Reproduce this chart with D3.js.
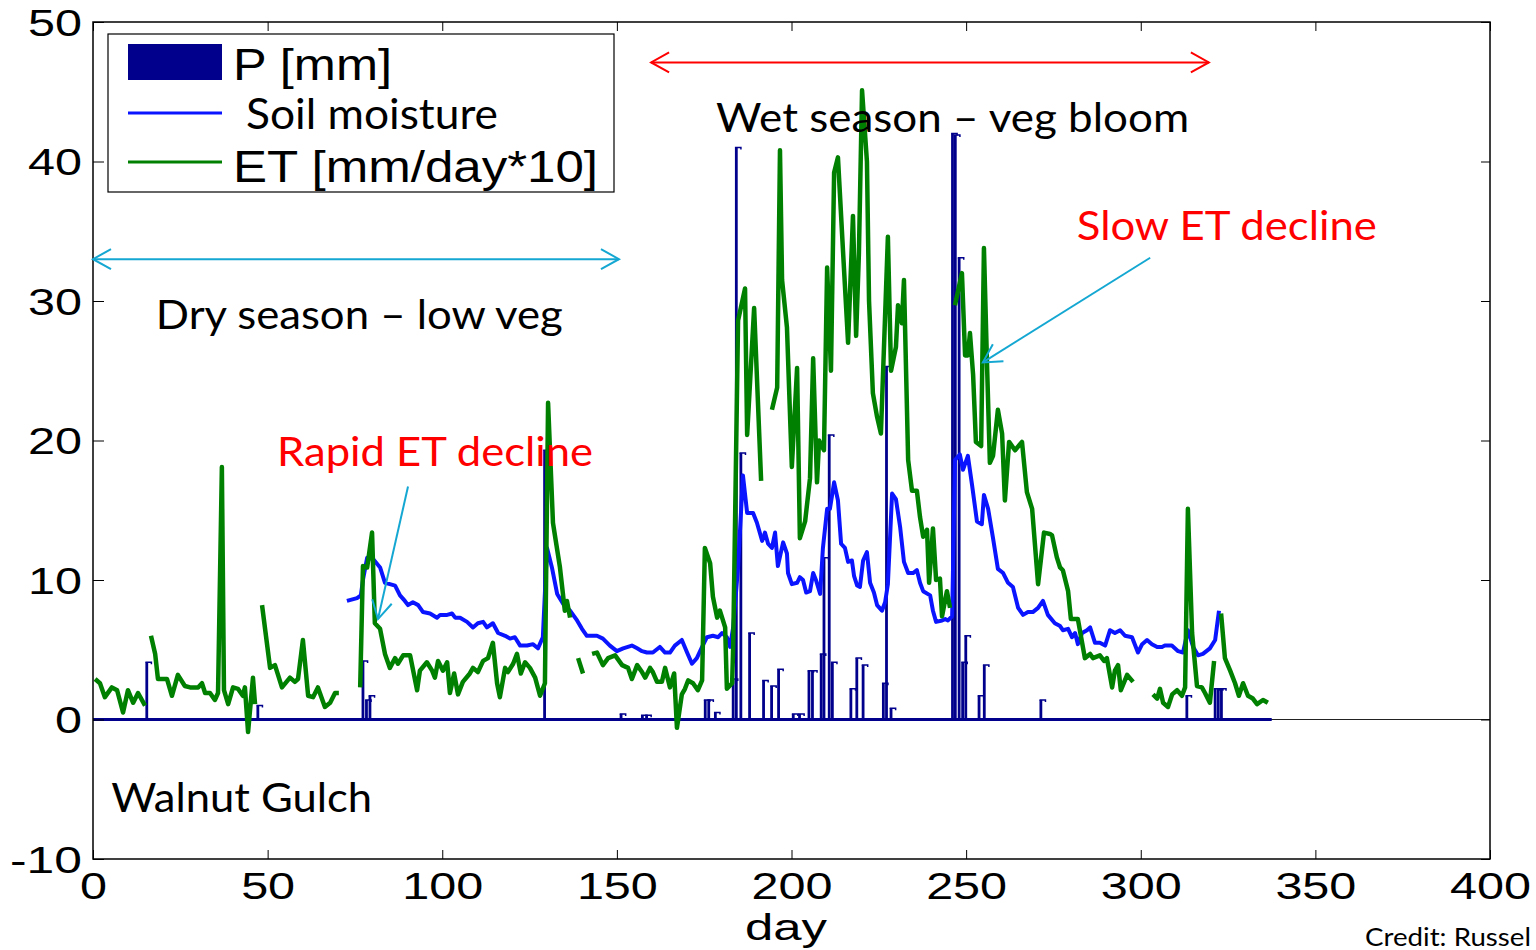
<!DOCTYPE html>
<html lang="en">
<head>
<meta charset="UTF-8">
<title>Walnut Gulch</title>
<script src="https://cdn.jsdelivr.net/npm/d3@7"></script>
<style>
  body { margin: 0; background: white; }
  svg { display: block; }
  .tick-label { font-family: "Liberation Sans", Arial, sans-serif; font-size: 37px; fill: black; }
  .note { font-family: Lato, "Open Sans", sans-serif; font-size: 40px; }
  .legend-arial { font-family: "Liberation Sans", Arial, sans-serif; font-size: 44px; }
</style>
</head>
<body>
<div id="chart"></div>
<script>
// ---- data ----
const dayTicks = [0, 50, 100, 150, 200, 250, 300, 350, 400];
const valueTicks = [-10, 0, 10, 20, 30, 40, 50];

// precipitation bars: day and mm
const rainDay = [15.4, 47.2, 77.3, 78.3, 79.3, 129.3, 151.2, 157.3, 158.5, 175.3, 176.3, 178.2, 183.3, 184.2, 185.5,
  188.0, 192.0, 194.3, 196.3, 200.5, 202.3, 205.0, 206.0, 208.5, 209.3, 210.8, 211.7, 217.0, 218.7, 220.5,
  226.3, 227.2, 228.5, 246.1, 246.9, 248.0, 249.0, 249.9, 253.7, 255.2, 271.4, 313.2, 321.3, 322.2, 323.1];
const rainMm = [4.1, 1.0, 4.2, 1.4, 1.7, 19.3, 0.4, 0.3, 0.3, 1.4, 1.4, 0.5, 2.9, 41.0, 19.1,
  6.2, 2.8, 2.4, 3.6, 0.4, 0.4, 3.5, 3.5, 4.7, 11.6, 20.4, 4.1, 2.2, 4.4, 3.9,
  2.6, 25.3, 0.8, 42.0, 41.9, 33.1, 4.1, 6.0, 1.7, 3.9, 1.4, 1.7, 2.2, 2.2, 2.2];
const lastRecordDay = 337.5;

// soil moisture [day, value]
const soilMoisture = [
  [72.7,8.5],[75.6,8.7],[76.7,8.9],[77.3,10.0],[78.5,11.6],[80.2,11.5],[82.2,10.9],[83.6,9.8],[85.0,9.7],[86.5,9.6],
  [87.9,8.9],[89.3,8.5],[90.2,8.2],[91.6,8.4],[93.1,8.2],[94.5,7.7],[96.5,7.6],[98.5,7.3],[99.4,7.5],[101.4,7.5],
  [102.8,7.6],[103.7,7.3],[105.1,7.3],[107.1,7.0],[108.8,6.6],[110.2,6.9],[111.7,7.0],[112.8,6.6],[114.5,6.9],[116.0,6.2],
  [118.0,6.0],[119.4,5.8],[120.8,5.9],[122.3,5.3],[124.3,5.3],[126.0,5.4],[127.4,5.1],[128.8,5.9],[130.0,12.3],[131.4,10.9],
  [132.9,9.0],[134.6,8.3],[136.6,7.8],[138.6,7.1],[140.0,6.5],[141.4,6.0],[144.3,6.0],[146.0,5.8],[148.0,5.3],[150.0,4.9],
  [151.8,5.1],[154.3,5.3],[155.8,5.1],[157.2,4.9],[158.6,4.8],[160.3,4.8],[162.3,5.2],[163.8,4.8],[165.2,4.8],[166.6,5.3],
  [168.6,5.7],[170.1,4.8],[171.5,4.0],[172.9,4.4],[174.4,5.2],[175.8,5.9],[177.5,6.0],[179.0,5.9],[180.1,6.2],[181.5,5.9],
  [182.4,5.2],[183.3,6.6],[184.7,10.9],[186.1,17.5],[187.3,14.8],[189.0,14.8],[190.1,14.1],[191.6,12.8],[192.4,13.4],[193.3,12.6],
  [194.4,12.3],[195.3,13.4],[196.1,11.0],[197.6,12.7],[198.7,11.9],[199.0,10.5],[200.1,9.7],[201.6,9.8],[202.4,10.2],[203.3,10.0],
  [204.2,9.1],[205.3,9.2],[206.2,10.5],[207.0,10.0],[208.2,9.0],[209.0,12.3],[210.2,15.1],[211.0,15.1],[212.2,17.0],[213.3,15.7],
  [214.2,12.6],[215.3,12.3],[216.2,11.3],[217.3,11.4],[217.9,10.3],[218.8,9.6],[219.6,9.5],[220.5,11.4],[221.6,12.0],[222.5,9.8],
  [223.6,9.1],[224.5,8.2],[225.9,7.8],[226.8,8.4],[227.6,9.7],[228.8,16.2],[229.9,15.8],[231.1,13.8],[232.2,11.3],[233.4,10.5],
  [234.8,10.5],[235.9,10.7],[236.8,9.8],[237.7,9.2],[239.7,8.9],[240.5,7.8],[241.4,7.0],[243.1,7.1],[244.0,7.2],[244.8,7.1],
  [246.0,7.4],[246.8,18.6],[248.2,19.0],[249.1,17.9],[250.5,18.9],[251.7,16.8],[253.1,14.2],[254.5,14.0],[255.1,16.1],[256.3,15.1],
  [257.7,13.0],[259.1,10.8],[260.6,10.5],[262.0,9.8],[263.4,9.5],[264.9,8.0],[266.3,7.5],[267.7,7.7],[269.1,7.7],[270.6,8.0],
  [272.0,8.5],[273.4,7.5],[275.4,6.9],[276.9,6.7],[277.7,6.4],[279.2,6.5],[280.3,5.9],[281.2,6.2],[282.0,5.4],[283.2,6.2],
  [284.6,6.4],[285.5,6.6],[286.9,5.5],[288.3,5.5],[289.8,5.3],[291.2,6.4],[292.6,6.2],[294.1,6.4],[295.5,6.0],[297.5,5.9],
  [299.2,4.8],[300.4,5.4],[301.8,5.7],[303.2,5.4],[304.7,5.2],[306.1,5.2],[306.9,5.3],[308.9,5.3],[310.7,4.9],[312.1,4.8],
  [313.5,6.4],[315.0,5.2],[316.4,4.6],[317.8,4.7],[319.8,5.1],[321.3,5.7],[322.4,7.8]
];

// ET x10 [day, value], null = no data
const etScaled = [
  [0.6,2.9],[2.0,2.6],[3.4,1.6],[5.4,2.3],[6.9,2.1],[8.6,0.5],[10.0,2.1],[11.5,1.2],[12.9,1.9],[14.9,1.0],
  [15.8,null],
  [16.6,6.0],[17.8,4.7],[18.6,2.9],[21.2,2.9],[22.6,1.7],[24.3,3.2],[26.3,2.4],[27.8,2.3],[30.1,2.3],[31.2,2.6],
  [32.1,1.9],[33.5,1.9],[34.9,1.4],[35.8,1.9],[36.9,18.1],[37.5,2.1],[38.7,1.1],[40.1,2.3],[41.5,2.2],[42.9,1.7],
  [43.5,2.3],[44.4,-0.9],[45.8,3.0],[46.4,1.1],
  [47.4,null],
  [48.4,8.2],[50.7,3.7],[52.1,3.9],[54.1,2.3],[56.4,3.0],[57.8,2.7],[58.7,2.9],[60.1,5.7],[61.6,1.7],[63.0,1.6],
  [64.4,2.3],[66.4,0.9],[67.9,1.2],[69.3,1.9],[70.4,1.9],
  [73.0,null],
  [76.5,2.3],[77.3,11.0],[78.5,10.9],[79.9,13.4],[80.7,6.9],[82.2,6.5],[83.6,4.7],[85.0,3.7],[86.5,4.4],[87.3,4.0],
  [88.8,4.6],[90.8,4.6],[92.8,2.1],[93.6,3.5],[95.6,4.1],[97.1,3.5],[97.9,3.0],[98.8,4.2],[100.2,3.5],[101.4,4.1],
  [102.2,1.9],[103.4,3.3],[104.5,1.8],[105.9,2.7],[107.9,3.3],[108.8,3.7],[110.2,3.4],[111.7,4.2],[113.1,4.4],[114.5,5.5],
  [115.7,2.6],[116.5,1.6],[118.0,3.7],[118.8,3.4],[120.3,4.0],[121.4,4.7],[122.5,3.3],[123.7,4.1],[125.1,3.7],[126.6,3.0],
  [128.0,1.7],[129.4,2.6],[130.3,22.7],[131.7,14.1],[133.7,10.9],[135.1,7.8],[135.7,8.5],[136.6,7.3],
  [137.8,null],
  [138.9,4.4],[140.3,3.3],
  [141.6,null],
  [142.9,4.7],[144.3,4.8],[146.0,3.9],[147.5,4.4],[149.5,4.6],[151.5,3.9],[153.2,3.7],[154.3,2.9],[155.8,3.9],[157.2,3.4],
  [158.1,3.0],[159.5,3.7],[160.3,3.4],[161.5,2.7],[162.9,2.7],[163.8,3.7],[165.2,2.3],[166.4,3.3],[167.2,-0.6],[168.6,1.8],
  [169.5,2.2],[170.4,2.8],[171.8,2.6],[173.2,2.1],[174.4,2.8],[175.2,12.3],[176.7,11.2],[177.5,8.8],[178.7,7.3],[179.5,7.8],
  [181.0,6.6],[181.5,2.2],[183.0,2.6],[183.3,5.2],[184.7,28.6],[186.7,30.9],[187.3,20.4],[189.3,29.5],[191.3,17.1],
  [193.0,null],
  [194.4,22.2],[195.9,23.8],[196.7,40.8],[197.3,31.5],[198.7,28.1],[200.1,18.1],[201.6,25.2],[202.4,13.0],[203.9,14.2],[205.3,17.3],
  [206.2,25.9],[207.3,17.0],[207.9,20.0],[209.3,19.3],[210.2,32.4],[211.3,25.0],[212.2,39.2],[213.3,40.3],[214.7,33.8],[216.2,27.0],
  [217.6,36.1],[218.5,27.5],[219.3,33.4],[220.2,45.1],[221.6,40.0],[222.2,30.0],[223.3,23.4],[224.5,21.7],[225.6,20.5],[227.6,34.6],
  [228.5,25.0],[229.9,26.7],[230.5,29.7],[231.6,28.4],[232.2,31.5],[233.4,18.6],[234.5,16.4],[235.9,16.4],[236.8,14.5],[237.7,13.1],
  [238.8,13.6],[239.4,9.8],[240.5,13.7],[241.4,10.0],[242.5,10.1],[243.1,7.4],[244.5,9.2],[245.4,8.0],
  [246.1,null],
  [246.8,29.7],[248.8,32.0],[249.7,26.1],[250.5,26.1],[251.1,27.7],[252.0,24.7],[252.8,19.9],[254.3,19.6],[255.1,33.8],[256.0,25.3],
  [256.8,18.4],[257.7,18.9],[259.1,22.2],[260.3,20.5],[261.1,15.7],[262.3,19.9],[264.0,19.3],[266.0,19.9],[267.4,16.3],[268.9,15.1],
  [270.6,9.7],[272.3,13.4],[274.0,13.3],[274.6,13.2],[276.0,11.6],[276.9,10.9],[277.7,10.7],[279.2,9.2],[280.0,7.2],[282.0,7.2],
  [284.0,4.4],[285.5,4.7],[286.3,4.4],[288.3,4.6],[289.5,4.2],[290.3,4.4],[291.8,2.3],[292.6,3.5],[293.5,3.9],[294.3,2.1],
  [296.1,3.2],[297.8,2.7],
  [300.0,null],
  [303.5,1.8],[304.7,1.5],[305.5,2.2],[306.4,1.2],[307.8,0.9],[309.0,1.8],[310.4,2.1],[311.8,1.7],[312.7,2.3],[313.5,15.1],
  [314.7,6.2],[316.1,2.4],[317.5,2.3],[318.4,1.9],[319.8,1.2],[321.0,4.2],
  [322.0,null],
  [323.0,7.6],[324.1,4.4],[325.6,3.5],[327.0,2.6],[328.1,1.7],[329.3,2.6],[330.7,1.7],[332.1,1.5],[333.3,1.1],[335.0,1.4],
  [336.4,1.2]
];

// ---- drawing ----
const width = 1536, height = 950;
const navy = "#00008c", blue = "#0a14ff", green = "#008000", red = "#ff0000", cyan = "#14a7d2";

const x = d3.scaleLinear().domain([0, 400]).range([93, 1490]);
const y = d3.scaleLinear().domain([-10, 50]).range([859, 22]);

const svg = d3.select("#chart").append("svg")
    .attr("width", width)
    .attr("height", height);

// thin baseline across the whole axis + thick navy one under the daily (zero) bars
svg.append("line")
    .attr("x1", x(0)).attr("x2", x(400))
    .attr("y1", y(0)).attr("y2", y(0))
    .attr("stroke", "#222").attr("stroke-width", 1);
svg.append("line")
    .attr("x1", x(0)).attr("x2", x(lastRecordDay))
    .attr("y1", y(0)).attr("y2", y(0))
    .attr("stroke", navy).attr("stroke-width", 3);

// precipitation bars
const bars = svg.append("g").attr("fill", navy);
bars.selectAll("rect")
    .data(rainDay)
    .join("rect")
    .attr("x", d => x(d - 0.4))
    .attr("width", x(0.8) - x(0))
    .attr("y", (d, i) => y(rainMm[i]))
    .attr("height", (d, i) => y(0) - y(rainMm[i]));
bars.selectAll("path")
    .data(rainDay)
    .join("path")
    .attr("d", (d, i) => `M${x(d - 0.4)},${y(rainMm[i])}h6v2`)
    .attr("fill", "none")
    .attr("stroke", navy)
    .attr("stroke-width", 1.5);

const line = d3.line()
    .defined(p => p[1] !== null)
    .x(p => x(p[0]))
    .y(p => y(p[1]));

svg.append("path")
    .datum(soilMoisture)
    .attr("d", line)
    .attr("fill", "none")
    .attr("stroke", blue)
    .attr("stroke-width", 4)
    .attr("stroke-linejoin", "round");

svg.append("path")
    .datum(etScaled)
    .attr("d", line)
    .attr("fill", "none")
    .attr("stroke", green)
    .attr("stroke-width", 4.5)
    .attr("stroke-linejoin", "round");

// axes, matlab style: box with inward ticks
const digitW = 27;
const labelLen = d => String(d).replace("-", "").length * digitW + (d < 0 ? 18 : 0);

svg.append("g")
    .attr("transform", `translate(${x(0)},0)`)
    .call(d3.axisLeft(y).tickValues(valueTicks).tickSize(-11).tickSizeOuter(0).tickPadding(11).tickFormat(d => String(d)))
    .call(g => g.select(".domain").remove())
    .call(g => g.selectAll("text")
        .attr("class", "tick-label")
        .attr("dy", "0.36em")
        .attr("textLength", labelLen)
        .attr("lengthAdjust", "spacingAndGlyphs"));

svg.append("g")
    .attr("transform", `translate(0,${y(-10)})`)
    .call(d3.axisBottom(x).tickValues(dayTicks).tickSize(-9).tickSizeOuter(0).tickPadding(14).tickFormat(d => String(d)))
    .call(g => g.select(".domain").remove())
    .call(g => g.selectAll("text")
        .attr("class", "tick-label")
        .attr("textLength", labelLen)
        .attr("lengthAdjust", "spacingAndGlyphs"));

svg.append("g")
    .attr("transform", `translate(${x(400)},0)`)
    .call(d3.axisRight(y).tickValues(valueTicks).tickSize(-9).tickSizeOuter(0).tickFormat(""))
    .call(g => g.select(".domain").remove());

svg.append("g")
    .attr("transform", `translate(0,${y(50)})`)
    .call(d3.axisTop(x).tickValues(dayTicks).tickSize(-9).tickSizeOuter(0).tickFormat(""))
    .call(g => g.select(".domain").remove());

svg.append("rect")
    .attr("x", x(0)).attr("y", y(50))
    .attr("width", x(400) - x(0)).attr("height", y(-10) - y(50))
    .attr("fill", "none").attr("stroke", "black").attr("stroke-width", 1.5);

svg.append("text")
    .attr("class", "tick-label")
    .attr("x", 745).attr("y", 940)
    .attr("textLength", 82).attr("lengthAdjust", "spacingAndGlyphs")
    .text("day");

// legend
const legend = svg.append("g").attr("transform", "translate(108,34)");
legend.append("rect")
    .attr("width", 506).attr("height", 158)
    .attr("fill", "white").attr("stroke", "black").attr("stroke-width", 1.2);
legend.append("rect")
    .attr("x", 20).attr("y", 10).attr("width", 94).attr("height", 36)
    .attr("fill", navy);
legend.append("text").attr("class", "legend-arial")
    .attr("x", 125).attr("y", 46)
    .attr("textLength", 159).attr("lengthAdjust", "spacingAndGlyphs")
    .text("P [mm]");
legend.append("line")
    .attr("x1", 20).attr("x2", 114).attr("y1", 79).attr("y2", 79)
    .attr("stroke", blue).attr("stroke-width", 3);
legend.append("text").attr("class", "note")
    .attr("x", 138).attr("y", 95)
    .style("font-size", "42px")
    .attr("textLength", 252).attr("lengthAdjust", "spacingAndGlyphs")
    .text("Soil moisture");
legend.append("line")
    .attr("x1", 20).attr("x2", 114).attr("y1", 128).attr("y2", 128)
    .attr("stroke", green).attr("stroke-width", 3);
legend.append("text").attr("class", "legend-arial")
    .attr("x", 125).attr("y", 148)
    .attr("textLength", 365).attr("lengthAdjust", "spacingAndGlyphs")
    .text("ET [mm/day*10]");

// annotations
function arrowHead(g, tx, ty, fx, fy, color) {
    const len = Math.hypot(tx - fx, ty - fy);
    const ux = (fx - tx) / len, uy = (fy - ty) / len;
    const bx = tx + ux * 18, by = ty + uy * 18;
    g.append("path")
        .attr("d", `M${bx - uy * 10},${by + ux * 10}L${tx},${ty}L${bx + uy * 10},${by - ux * 10}`)
        .attr("fill", "none").attr("stroke", color).attr("stroke-width", 2);
}
function arrow(g, d1, v1, d2, v2, color, both) {
    const [x1, y1, x2, y2] = [x(d1), y(v1), x(d2), y(v2)];
    g.append("line")
        .attr("x1", x1).attr("y1", y1).attr("x2", x2).attr("y2", y2)
        .attr("stroke", color).attr("stroke-width", 2);
    arrowHead(g, x2, y2, x1, y1, color);
    if (both) arrowHead(g, x1, y1, x2, y2, color);
}

const notes = svg.append("g");
arrow(notes, 159.8, 47.1, 319.5, 47.1, red, true);
arrow(notes, 0, 33.0, 150.6, 33.0, cyan, true);
arrow(notes, 90.2, 16.7, 81.6, 7.2, cyan, false);
arrow(notes, 302.7, 33.1, 254.8, 25.6, cyan, false);

const noteText = [
    { t: "Wet season \u2013 veg bloom", d: 178.4, v: 42.1, w: 473, c: "black" },
    { t: "Dry season \u2013 low veg", d: 18.0, v: 28.0, w: 407, c: "black" },
    { t: "Rapid ET decline", d: 52.7, v: 18.2, w: 316, c: red },
    { t: "Slow ET decline", d: 281.7, v: 34.4, w: 300, c: red },
    { t: "Walnut Gulch", d: 5.2, v: -6.6, w: 261, c: "black" }
];
notes.selectAll("text.note")
    .data(noteText)
    .join("text")
    .attr("class", "note")
    .attr("x", n => x(n.d))
    .attr("y", n => y(n.v))
    .attr("fill", n => n.c)
    .attr("textLength", n => n.w)
    .attr("lengthAdjust", "spacingAndGlyphs")
    .text(n => n.t);

// credit line, shown truncated as in the source slide
svg.append("text")
    .attr("x", 1365).attr("y", 946)
    .style("font-family", "Lato, 'Open Sans', sans-serif")
    .style("font-size", "25px")
    .attr("textLength", 166).attr("lengthAdjust", "spacingAndGlyphs")
    .text("Credit: Russel");
</script>
</body>
</html>
